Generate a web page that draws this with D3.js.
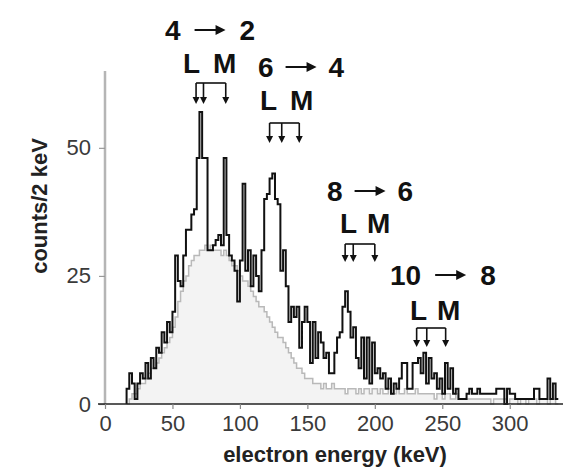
<!DOCTYPE html>
<html>
<head>
<meta charset="utf-8">
<script src="https://cdn.jsdelivr.net/npm/d3@7"></script>
<style>
  html, body { margin: 0; padding: 0; background: #fff; }
  svg { display: block; font-family: "Liberation Sans", Arial, Helvetica, sans-serif; }
</style>
</head>
<body>
<svg id="chart" width="563" height="472"></svg>
<script>
// Electron spectrum, 2 keV bins starting at 16 keV
const firstBin = 16;
const binWidth = 2;

// measured counts per bin (black histogram)
const measuredCounts = [
  3, 6, 4, 1, 4, 6, 5, 8, 5, 9,
  7, 11, 10, 14, 12, 16, 14, 18, 29, 24,
  23, 29, 34, 34, 37, 38, 48, 57, 48, 48,
  30, 30, 31, 32, 33, 31, 48, 33, 29, 28,
  26, 20, 28, 43, 26, 30, 23, 29, 25, 22,
  30, 40, 41, 44, 45, 40, 39, 26, 30, 23,
  16, 19, 17, 19, 11, 16, 19, 16, 8, 16,
  9, 14, 12, 9, 10, 6, 6, 10, 13, 14,
  19, 22, 18, 13, 15, 9, 7, 13, 5, 13,
  4, 12, 6, 7, 5, 6, 3, 5, 2, 4,
  3, 5, 8, 8, 3, 3, 8, 8, 9, 6,
  10, 4, 9, 5, 6, 3, 5, 2, 8, 3,
  7, 2, 3, 1, 1, 1, 2, 3, 2, 2,
  3, 2, 2, 2, 2, 2, 2, 3, 3, 3,
  0, 3, 2, 2, 1, 1, 1, 1, 1, 1,
  1, 3, 3, 1, 1, 1, 5, 1, 4, 1
];

// background estimate per bin (gray histogram)
const backgroundCounts = [
  0, 1, 2, 2, 3, 4, 4, 5, 6, 7,
  7, 8, 9, 10, 11, 12, 13, 15, 17, 20,
  22, 24, 25, 27, 28, 29, 29, 30, 30, 31,
  30, 31, 30, 30, 30, 29, 30, 29, 28, 27,
  27, 26, 25, 24, 24, 23, 22, 21, 20, 19,
  19, 18, 17, 16, 15, 14, 13, 13, 12, 11,
  10, 9, 8, 7, 7, 6, 5, 5, 5, 4,
  4, 4, 3, 4, 3, 3, 4, 3, 3, 3,
  3, 2, 3, 3, 3, 2, 3, 2, 3, 3,
  2, 3, 3, 2, 3, 2, 2, 3, 2, 2,
  3, 2, 2, 3, 2, 2, 2, 3, 2, 2,
  2, 2, 2, 2, 1, 2, 2, 1, 2, 2,
  1, 1, 2, 1, 1, 1, 1, 1, 1, 1,
  1, 1, 1, 1, 1, 0, 1, 1, 1, 1,
  1, 0, 1, 1, 1, 0, 1, 1, 0, 1,
  1, 1, 0, 1, 1, 1, 0, 1, 1, 0
];

const xTicks = [0, 50, 100, 150, 200, 250, 300];
const yTicks = [0, 25, 50];

// yrast transitions with their L (two lines) and M conversion energies, keV
const transitionFrom = [4, 6, 8, 10];
const transitionTo = [2, 4, 6, 8];
const conversionLines = [
  [67.5, 73, 89.5],
  [122, 131, 144],
  [178, 184, 200],
  [231, 238.5, 252.5]
];

// label placement (pixels) for each transition annotation
const labelLayout = [
  { x: 165, y: 40, arrowGap: 14, arrowLen: 31, lx: 183, mx: 213, ly: 73, bracketTop: 83, bracketTip: 104 },
  { x: 258, y: 77, arrowGap: 12, arrowLen: 31, lx: 260, mx: 290, ly: 110, bracketTop: 123, bracketTip: 143 },
  { x: 327, y: 201, arrowGap: 12, arrowLen: 31, lx: 340, mx: 367, ly: 233, bracketTop: 244, bracketTip: 262 },
  { x: 390, y: 285, arrowGap: 14, arrowLen: 31, lx: 410, mx: 437, ly: 320, bracketTop: 328, bracketTip: 347 }
];

const svg = d3.select("#chart");

const x = d3.scaleLinear().domain([0, 338]).range([105, 561]);
const y = d3.scaleLinear().domain([0, 65]).range([404, 71]);

function stepPoints(counts) {
  const pts = [[firstBin, 0]];
  counts.forEach((c, i) => pts.push([firstBin + i * binWidth, c]));
  pts.push([firstBin + counts.length * binWidth, counts[counts.length - 1]]);
  return pts;
}

const bgPts = stepPoints(backgroundCounts);
const msPts = stepPoints(measuredCounts);

// background: filled area under the gray step histogram
svg.append("path")
  .datum(bgPts)
  .attr("fill", "#f3f3f3")
  .attr("d", d3.area().curve(d3.curveStepAfter)
    .x(d => x(d[0])).y0(y(0)).y1(d => y(d[1])));

svg.append("path")
  .datum(bgPts)
  .attr("fill", "none")
  .attr("stroke", "#b9b9b9")
  .attr("stroke-width", 1.5)
  .attr("d", d3.line().curve(d3.curveStepAfter).x(d => x(d[0])).y(d => y(d[1])));

// measured spectrum
svg.append("path")
  .datum(msPts)
  .attr("fill", "none")
  .attr("stroke", "#111")
  .attr("stroke-width", 2)
  .attr("stroke-linejoin", "miter")
  .attr("d", d3.line().curve(d3.curveStepAfter).x(d => x(d[0])).y(d => y(d[1])));

// y axis (gray)
const yAxis = svg.append("g")
  .attr("transform", `translate(${x(0)},0)`)
  .call(d3.axisLeft(y).tickValues(yTicks).tickSize(6).tickPadding(8));
yAxis.select(".domain").attr("stroke", "#b5b5b5").attr("stroke-width", 2.5)
  .attr("d", `M0,${y(0)}V${y(65)}`);
yAxis.selectAll(".tick line").attr("stroke", "#999").attr("stroke-width", 1.2);
yAxis.selectAll(".tick text")
  .attr("font-size", 22).attr("fill", "#3a3a3a")
  .attr("font-family", "Liberation Sans, Arial, sans-serif");

// x axis
const xAxis = svg.append("g")
  .attr("transform", `translate(0,${y(0)})`)
  .call(d3.axisBottom(x).tickValues(xTicks).tickSize(5).tickPadding(6));
xAxis.select(".domain").attr("stroke", "#222").attr("stroke-width", 1.5)
  .attr("d", `M98,0H563`);
xAxis.selectAll(".tick line").attr("stroke", "#888").attr("stroke-width", 1.2);
xAxis.selectAll(".tick text")
  .attr("font-size", 22).attr("fill", "#3a3a3a")
  .attr("font-family", "Liberation Sans, Arial, sans-serif");

// axis titles
svg.append("text")
  .attr("x", 335).attr("y", 462)
  .attr("text-anchor", "middle")
  .attr("font-size", 22).attr("font-weight", "bold").attr("fill", "#222")
  .text("electron energy (keV)");

svg.append("text")
  .attr("transform", "translate(47,206) rotate(-90)")
  .attr("text-anchor", "middle")
  .attr("font-size", 22).attr("font-weight", "bold").attr("fill", "#222")
  .text("counts/2 keV");

// transition annotations
const ann = svg.append("g").attr("fill", "#111");
transitionFrom.forEach((from, i) => {
  const L = labelLayout[i];
  const fs = 28;
  const left = ann.append("text")
    .attr("x", L.x).attr("y", L.y)
    .attr("font-size", fs).attr("font-weight", "bold")
    .text(from);
  const w = left.node().getComputedTextLength();
  const ax0 = L.x + w + L.arrowGap;
  const ax1 = ax0 + L.arrowLen;
  const ay = L.y - 10;
  ann.append("line")
    .attr("x1", ax0).attr("x2", ax1 - 6).attr("y1", ay).attr("y2", ay)
    .attr("stroke", "#111").attr("stroke-width", 2);
  ann.append("path")
    .attr("d", `M${ax1},${ay}L${ax1 - 10},${ay - 5}L${ax1 - 10},${ay + 5}Z`);
  ann.append("text")
    .attr("x", ax1 + L.arrowGap).attr("y", L.y)
    .attr("font-size", fs).attr("font-weight", "bold")
    .text(transitionTo[i]);

  ann.append("text").attr("x", L.lx).attr("y", L.ly)
    .attr("font-size", fs).attr("font-weight", "bold").text("L");
  ann.append("text").attr("x", L.mx).attr("y", L.ly)
    .attr("font-size", fs).attr("font-weight", "bold").text("M");

  // bracket with arrows pointing at the conversion line energies
  const lines = conversionLines[i];
  const xs = lines.map(e => x(e));
  ann.append("path")
    .attr("fill", "none").attr("stroke", "#111").attr("stroke-width", 1.6)
    .attr("d", `M${xs[0]},${L.bracketTop}H${xs[2]}`);
  xs.forEach(px => {
    ann.append("line")
      .attr("x1", px).attr("x2", px)
      .attr("y1", L.bracketTop).attr("y2", L.bracketTip - 5)
      .attr("stroke", "#111").attr("stroke-width", 1.6);
    ann.append("path")
      .attr("d", `M${px},${L.bracketTip}L${px - 3.5},${L.bracketTip - 7}L${px + 3.5},${L.bracketTip - 7}Z`);
  });
});
</script>
</body>
</html>
